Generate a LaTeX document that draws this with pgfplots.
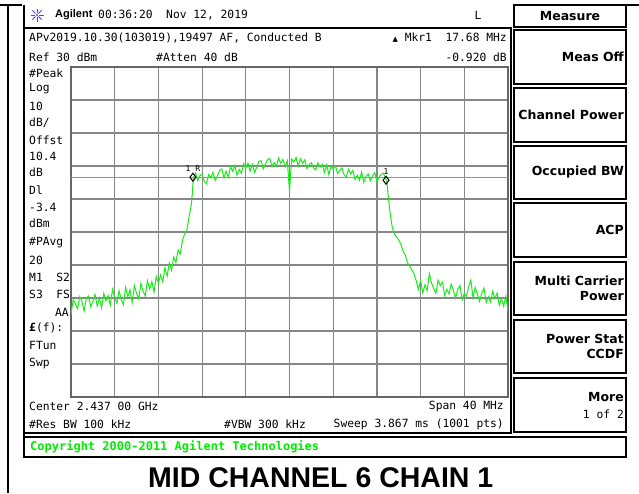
\documentclass[border=0pt]{standalone}
\usepackage{pgfplots}
\pgfplotsset{compat=1.18}
\usepackage{fontspec}
\setmainfont{DejaVu Sans Mono}
\newfontfamily\scr{DejaVu Sans Mono}
\newfontfamily\arial{Liberation Sans}
\newfontfamily\keyf{DejaVu Sans}
\newfontfamily\sym{DejaVu Sans}
\definecolor{trace}{RGB}{25,235,25}
\definecolor{gridc}{RGB}{135,135,135}
\definecolor{agblue}{RGB}{70,70,235}
\definecolor{cgreen}{RGB}{0,235,0}
\newcommand{\scrf}{\scr\fontsize{11.3}{12}\selectfont}
\newcommand{\kf}{\keyf\bfseries\fontsize{12.5}{13}\selectfont}
\begin{document}
\begin{tikzpicture}
\useasboundingbox (0pt,0pt) rectangle (639pt,-493pt);
\begin{axis}[at={(71pt,-397pt)}, anchor=south west, scale only axis,
  width=437pt, height=330pt, xmin=-20, xmax=20, ymin=-70, ymax=30,
  xtick={-20,-16,...,20}, ytick={-70,-60,...,30},
  xticklabels={}, yticklabels={}, major tick length=0pt,
  grid=major, grid style={gridc, line width=1.2pt},
  axis line style={black!60, line width=1.5pt}, clip=true]
\addplot[trace, line width=0.8pt] coordinates {(-20,-3.4) (20,-3.4)};
\addplot[trace, line width=1pt] table {
f y
-20.0 -45.0
-19.8 -40.5
-19.6 -41.8
-19.4 -43.2
-19.2 -39.6
-19.0 -41.0
-18.8 -44.0
-18.6 -40.2
-18.4 -39.4
-18.2 -42.6
-18.0 -41.0
-17.8 -38.9
-17.6 -42.4
-17.4 -40.0
-17.2 -43.0
-17.0 -38.6
-16.8 -40.8
-16.6 -39.2
-16.4 -42.2
-16.2 -37.4
-16.0 -39.8
-15.8 -41.6
-15.6 -37.8
-15.4 -40.5
-15.2 -42.0
-15.0 -36.8
-14.8 -39.6
-14.6 -37.5
-14.4 -41.4
-14.2 -36.2
-14.0 -38.6
-13.8 -40.2
-13.6 -35.6
-13.4 -38.0
-13.2 -39.4
-13.0 -34.8
-12.8 -37.2
-12.6 -35.0
-12.4 -38.2
-12.2 -33.4
-12.0 -35.6
-11.8 -33.0
-11.6 -35.0
-11.4 -30.8
-11.2 -33.4
-11.0 -29.4
-10.8 -31.6
-10.6 -27.6
-10.4 -29.2
-10.2 -25.5
-10.0 -26.6
-9.8 -22.6
-9.6 -20.6
-9.4 -19.6
-9.2 -15.5
-9.0 -12.0
-8.9 -8.5
-8.8 -3.6
-8.6 -2.2
-8.4 -4.4
-8.2 -3.0
-8.0 -2.4
-7.8 -4.6
-7.6 -5.4
-7.4 -2.6
-7.2 -3.6
-7.0 -1.9
-6.8 -4.4
-6.6 -3.0
-6.4 -1.4
-6.2 -0.9
-6.0 -3.6
-5.8 -1.6
-5.6 -3.4
-5.4 -0.2
-5.2 -1.6
-5.0 0.1
-4.8 -2.8
-4.6 -1.0
-4.4 -2.2
-4.2 0.7
-4.0 -0.6
-3.8 0.9
-3.6 -1.6
-3.4 0.5
-3.2 -1.9
-3.0 -0.4
-2.8 1.4
-2.6 1.6
-2.4 -0.9
-2.2 0.6
-2.0 2.0
-1.8 2.3
-1.6 -0.2
-1.4 1.1
-1.2 -0.1
-1.0 2.4
-0.8 0.8
-0.6 2.0
-0.4 -0.3
-0.2 1.6
-0.1 -3.0
0.0 -7.8
0.1 -2.5
0.2 2.1
0.4 1.2
0.6 2.6
0.8 -0.1
1.0 2.2
1.2 0.8
1.4 1.9
1.6 -0.8
1.8 0.4
2.0 1.0
2.2 -0.6
2.4 -1.2
2.6 1.0
2.8 -0.4
3.0 0.5
3.2 -2.0
3.4 0.4
3.6 -2.6
3.8 -0.1
4.0 -0.9
4.2 0.1
4.4 -2.3
4.6 -1.4
4.8 -0.6
5.0 -2.7
5.2 -3.3
5.4 -1.0
5.6 -2.4
5.8 -1.3
6.0 -4.1
6.2 -2.8
6.4 -4.3
6.6 -1.8
6.8 -4.9
7.0 -3.2
7.2 -2.4
7.4 -4.5
7.6 -3.0
7.8 -2.0
8.0 -4.6
8.2 -3.4
8.4 -2.5
8.6 -2.2
8.8 -3.8
8.9 -4.3
9.0 -8.0
9.2 -14.0
9.4 -18.5
9.6 -20.6
9.8 -21.6
10.0 -22.4
10.2 -23.8
10.4 -25.8
10.6 -27.0
10.8 -29.3
11.0 -30.4
11.2 -31.5
11.4 -32.7
11.6 -34.8
11.8 -37.4
12.0 -34.7
12.2 -38.4
12.4 -36.0
12.6 -37.8
12.8 -32.6
13.0 -35.4
13.2 -37.2
13.4 -38.6
13.6 -34.6
13.8 -36.2
14.0 -35.2
14.2 -39.2
14.4 -37.4
14.6 -38.8
14.8 -35.8
15.0 -37.6
15.2 -40.0
15.4 -37.4
15.6 -36.2
15.8 -40.6
16.0 -38.6
16.2 -39.4
16.4 -36.6
16.6 -34.6
16.8 -40.0
17.0 -36.8
17.2 -38.8
17.4 -41.0
17.6 -38.5
17.8 -37.0
18.0 -41.4
18.2 -39.6
18.4 -41.2
18.6 -38.0
18.8 -40.2
19.0 -38.5
19.2 -42.2
19.4 -40.1
19.6 -42.5
19.8 -39.4
20.0 -44.0
};
\addplot[only marks, mark=diamond, mark size=4pt, mark options={draw=black, line width=1pt},
  nodes near coords, point meta=explicit symbolic,
  every node near coord/.style={anchor=south, inner sep=0pt, yshift=5pt, font=\scr\fontsize{8}{8}\selectfont}]
  coordinates {(-8.84,-3.4) [1 R] (8.84,-4.3) [1]};
\end{axis}
\begin{scope}[x=1pt,y=-1pt]
% outer lines
\draw[line width=2pt] (0,5) -- (22,5);
\draw[line width=2pt] (627,5) -- (639,5);
\draw[line width=2pt] (8,4) -- (8,493);
% screenshot frame
\draw[line width=1.5pt] (24,5) -- (24,457);
\draw[line width=2pt] (24,28) rectangle (511,433);
\draw[line width=2pt] (24,437) rectangle (626,457);
% header
\foreach \a in {0,45,...,315} \draw[agblue, line width=0.8pt] (37,15) ++(\a:2) -- ++(\a:4.5);
\fill[agblue] (37,15) circle (1.2);
\node[anchor=west, inner sep=0, font=\arial\bfseries\fontsize{11}{11}\selectfont] at (55,15) {Agilent};
\node[anchor=west, inner sep=0, font=\scrf] at (98,15) {00:36:20\ \ Nov 12, 2019};
\node[inner sep=0, font=\scrf] at (478,15) {L};
% softkeys
\draw[line width=2pt] (514,5) rectangle (626,27);
\node[inner sep=0, font=\kf] at (570,16) {Measure};
\foreach \ya/\yb in {30/84, 88/142, 146/199, 203/257, 262/315, 320/373, 378/432}
  \draw[line width=2pt] (514,\ya) rectangle (626,\yb);
\node[anchor=east, inner sep=0, font=\kf] at (624,57) {Meas Off};
\node[anchor=east, inner sep=0, font=\kf] at (624,115) {Channel Power};
\node[anchor=east, inner sep=0, font=\kf] at (624,172) {Occupied BW};
\node[anchor=east, inner sep=0, font=\kf] at (624,230) {ACP};
\node[anchor=east, inner sep=0, font=\kf] at (624,281) {Multi Carrier};
\node[anchor=east, inner sep=0, font=\kf] at (624,296) {Power};
\node[anchor=east, inner sep=0, font=\kf] at (624,339) {Power Stat};
\node[anchor=east, inner sep=0, font=\kf] at (624,354) {CCDF};
\node[anchor=east, inner sep=0, font=\kf] at (624,397) {More};
\node[anchor=east, inner sep=0, font=\scrf] at (624,414) {1 of 2};
% display texts
\node[anchor=west, inner sep=0, font=\scrf] at (29,38) {APv2019.10.30(103019),19497 AF, Conducted B};
\node[anchor=east, inner sep=0, font=\scrf] at (507,38) {{\sym\fontsize{7}{7}\selectfont ▲} Mkr1\ \ 17.68 MHz};
\node[anchor=west, inner sep=0, font=\scrf] at (29,57) {Ref 30 dBm};
\node[anchor=west, inner sep=0, font=\scrf] at (156,57) {\#Atten 40 dB};
\node[anchor=east, inner sep=0, font=\scrf] at (507,57) {-0.920 dB};
\foreach \t/\yy in {\#Peak/73, Log/89, 10/106, dB\slash/123, Offst/140, 10.4/156, dB/172, Dl/190, -3.4/207, dBm/223, \#PAvg/243, 20/260, M1\ \ S2/277, S3\ \ FS/294, FTun/345, Swp/363}
  \node[anchor=west, inner sep=0, font=\scrf] at (29,\yy) {\t};
\node[anchor=east, inner sep=0, font=\scrf] at (69,312) {AA};
\node[anchor=west, inner sep=0, font=\scrf] at (29,328) {\textbf{£}(f):};
\node[anchor=west, inner sep=0, font=\scrf] at (29,406) {Center 2.437 00 GHz};
\node[anchor=east, inner sep=0, font=\scrf] at (504,406) {Span 40 MHz};
\node[anchor=west, inner sep=0, font=\scrf] at (29,424) {\#Res BW 100 kHz};
\node[anchor=west, inner sep=0, font=\scrf] at (224,424) {\#VBW 300 kHz};
\node[anchor=east, inner sep=0, font=\scrf] at (504,424) {Sweep 3.867 ms (1001 pts)};
\node[anchor=west, inner sep=0, text=cgreen, font=\scr\bfseries\fontsize{12}{12}\selectfont] at (30,447) {Copyright 2000-2011 Agilent Technologies};
% title
\node[anchor=base west, inner sep=0, font=\arial\bfseries\fontsize{28.5}{29}\selectfont] at (148,487) {MID CHANNEL 6 CHAIN 1};
\end{scope}
\end{tikzpicture}
\end{document}
